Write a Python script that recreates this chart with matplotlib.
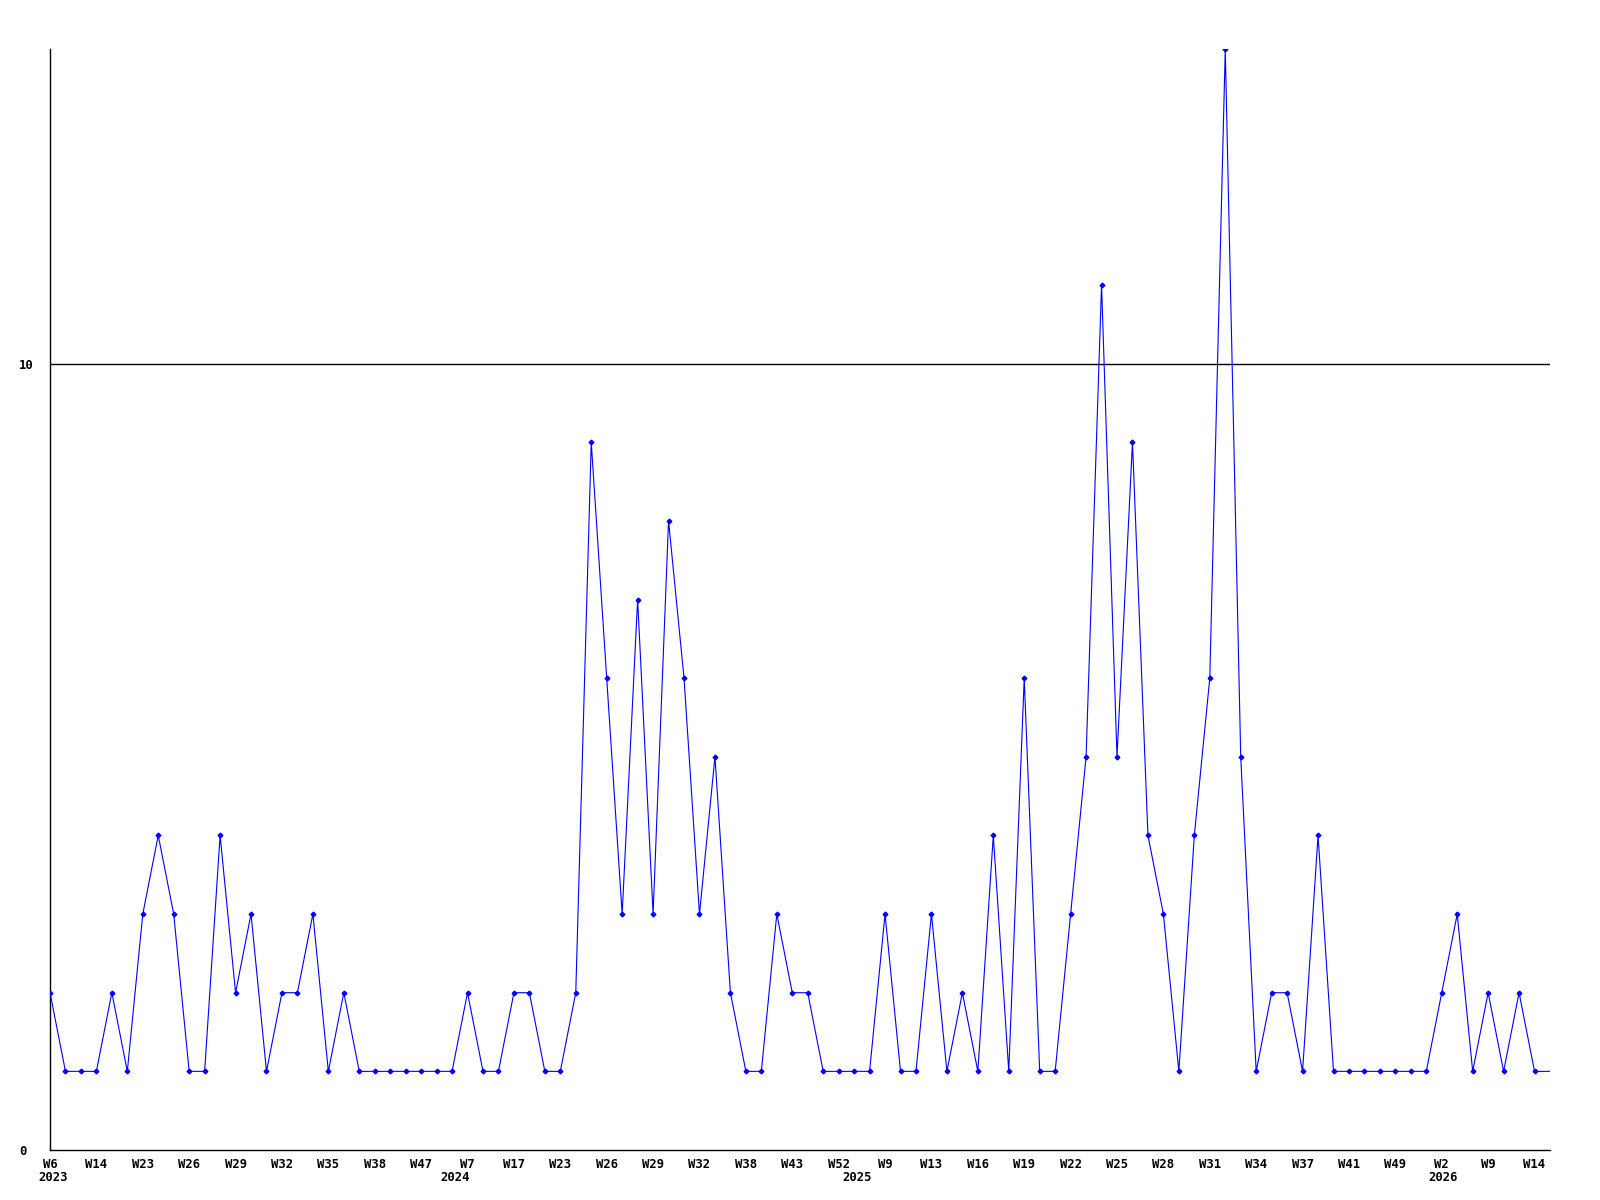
import matplotlib
matplotlib.use("Agg")
import matplotlib.pyplot as plt
import matplotlib.transforms as mtransforms
import numpy as np

# weekly counts, one per point (last value is the open week drawn to the edge)
values = [2, 1, 1, 1, 2, 1, 3, 4, 3, 1,
          1, 4, 2, 3, 1, 2, 2, 3, 1, 2,
          1, 1, 1, 1, 1, 1, 1, 2, 1, 1,
          2, 2, 1, 1, 2, 9, 6, 3, 7, 3,
          8, 6, 3, 5, 2, 1, 1, 3, 2, 2,
          1, 1, 1, 1, 3, 1, 1, 3, 1, 2,
          1, 4, 1, 6, 1, 1, 3, 5, 11, 5,
          9, 4, 3, 1, 4, 6, 14, 5, 1, 2,
          2, 1, 4, 1, 1, 1, 1, 1, 1, 1,
          2, 3, 1, 2, 1, 2, 1, 1]

week_labels = ["W6", "W14", "W23", "W26", "W29", "W32", "W35", "W38", "W47",
               "W7", "W17", "W23", "W26", "W29", "W32", "W38", "W43", "W52",
               "W9", "W13", "W16", "W19", "W22", "W25", "W28", "W31", "W34",
               "W37", "W41", "W49", "W2", "W9", "W14"]
label_step = 3

years = ["2023", "2024", "2025", "2026"]
year_pos = [0.23, 26.2, 52.2, 90.1]

x = np.arange(len(values))
n_marked = len(values) - 1

font = dict(family="DejaVu Sans Mono", fontweight="bold", fontsize=8.8)

fig = plt.figure(figsize=(16, 12), dpi=100)
ax = fig.add_axes([50 / 1600, 50 / 1200, 1500 / 1600, 1101 / 1200])

ax.plot(x, values, color="#0000ff", linewidth=0.8, marker="D",
        markersize=2.4, markevery=list(range(n_marked)), zorder=3)

ax.set_xlim(0, len(values) - 1)
ax.set_ylim(0, 14)

ax.axhline(10, color="black", linewidth=1.0, zorder=2)

for s in ["top", "right"]:
    ax.spines[s].set_visible(False)
for s in ["left", "bottom"]:
    ax.spines[s].set_linewidth(1.0)
    ax.spines[s].set_color("black")

ax.set_yticks([0, 10])
ax.set_yticklabels(["0", "10"], **font)
for lab in ax.get_yticklabels():
    lab.set_horizontalalignment("left")
ax.tick_params(axis="y", length=0, pad=22.5)

ax.set_xticks(x[::label_step][:len(week_labels)])
ax.set_xticklabels(week_labels, **font)
ax.tick_params(axis="x", length=0, pad=5.5)

trans = mtransforms.blended_transform_factory(ax.transData, ax.transAxes)
for yr, pos in zip(years, year_pos):
    ax.text(pos, -0.0195, yr, transform=trans, ha="center", va="top", **font)

fig.savefig("out.png", dpi=100)
